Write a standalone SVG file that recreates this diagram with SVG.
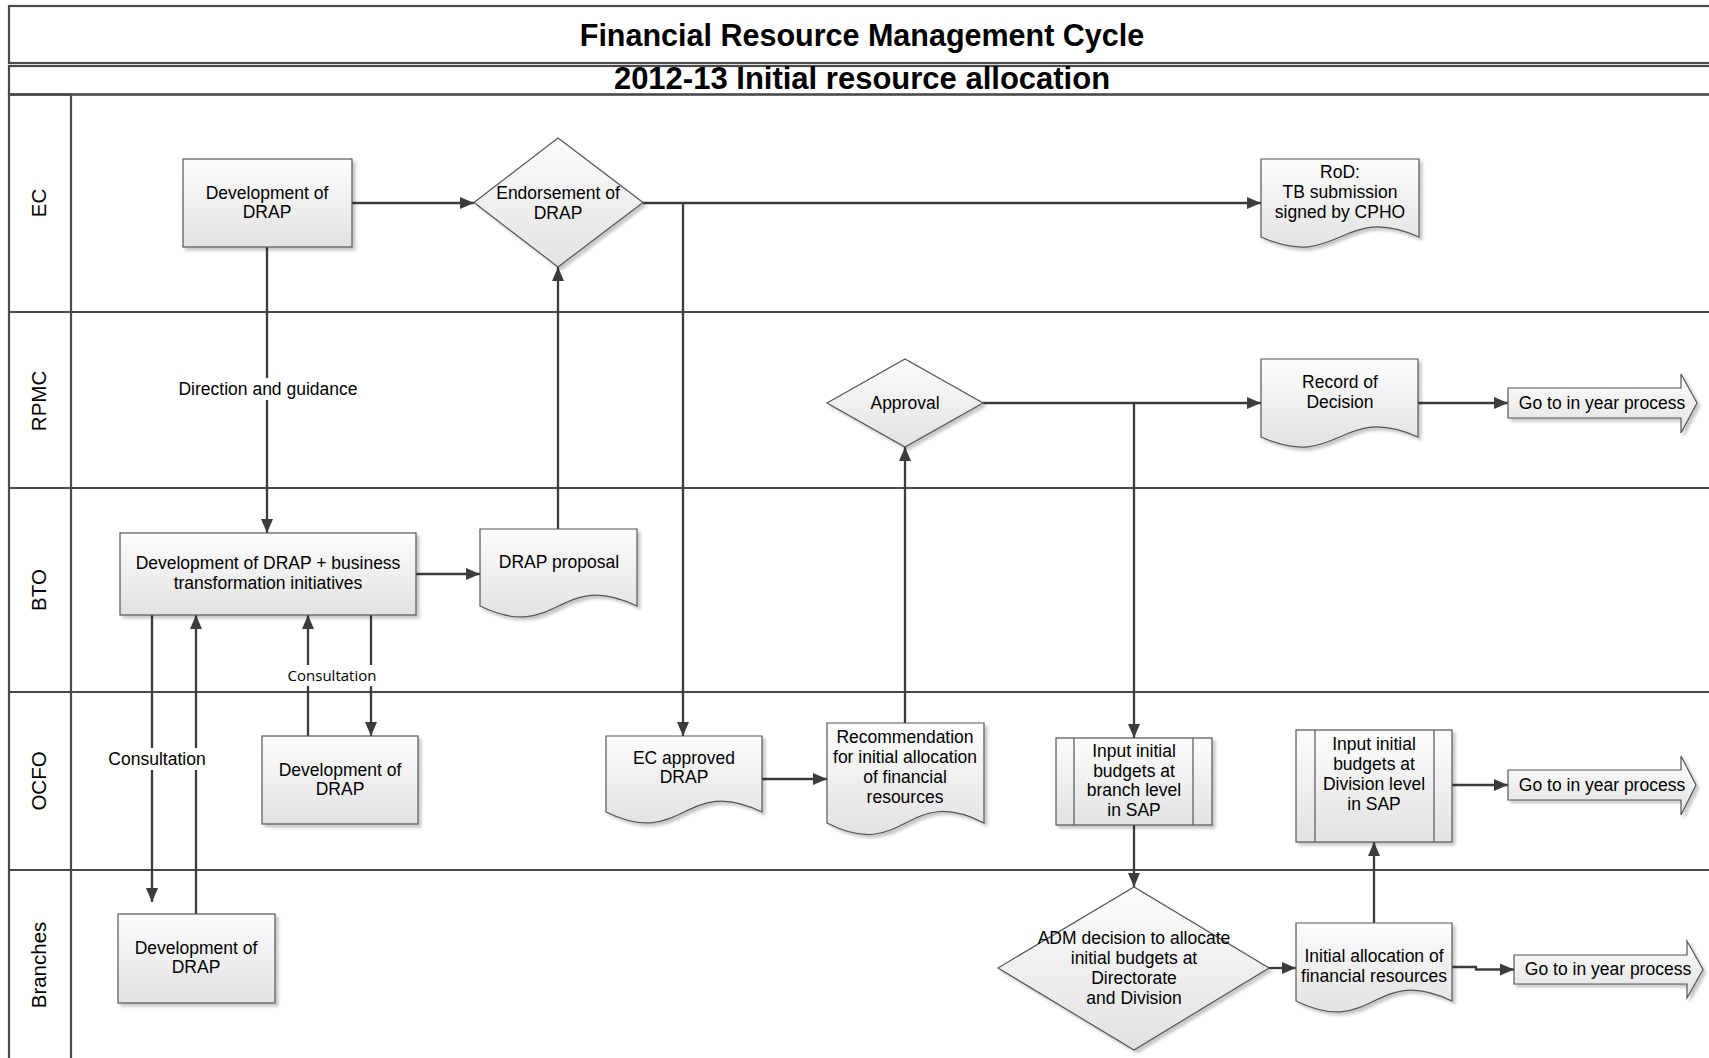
<svg xmlns="http://www.w3.org/2000/svg" width="1709" height="1058" viewBox="0 0 1709 1058">
<style>
text{font-family:"Liberation Sans",Arial,sans-serif;fill:#000}
.t{font-size:17.5px;text-anchor:middle}
.h{font-size:30.5px;font-weight:bold;text-anchor:middle}
.ln{font-size:20.5px;text-anchor:middle;dominant-baseline:central}
.lane{stroke:#4a4a4a;stroke-width:2.2;fill:none}
.sh{fill:url(#gf);stroke:#555;stroke-width:1.2}
.in{stroke:#555;stroke-width:1.2}
.c{stroke:#3c3c3c;stroke-width:2.3;fill:none}
.ca{stroke:#3c3c3c;stroke-width:2.3;fill:none;marker-end:url(#ah)}
.lb{fill:#fff}
.cs{font-family:"Open Sans","Liberation Sans",sans-serif;font-size:15px;text-anchor:middle}
</style>
<defs>
<linearGradient id="gf" x1="0" y1="0" x2="0" y2="1"><stop offset="0" stop-color="#fdfdfd"/><stop offset="1" stop-color="#e2e2e2"/></linearGradient>
<linearGradient id="gt" x1="0" y1="0" x2="0" y2="1"><stop offset="0" stop-color="#fafafa"/><stop offset="1" stop-color="#e8e8e8"/></linearGradient>
<linearGradient id="gl" x1="0" y1="0" x2="1" y2="0"><stop offset="0" stop-color="#f5f5f5"/><stop offset="1" stop-color="#e9e9e9"/></linearGradient>
<filter id="ds" x="-10%" y="-10%" width="130%" height="130%"><feGaussianBlur in="SourceAlpha" stdDeviation="1.5"/><feOffset dx="3" dy="3"/><feComponentTransfer><feFuncA type="linear" slope="0.22"/></feComponentTransfer><feMerge><feMergeNode/><feMergeNode in="SourceGraphic"/></feMerge></filter>
<marker id="ah" markerWidth="15" markerHeight="13" refX="14" refY="6.5" orient="auto" markerUnits="userSpaceOnUse"><path d="M0,0.5 L14,6.5 L0,12.5 z" fill="#3c3c3c"/></marker>
</defs>

<g id="pool">
<rect x="9" y="6" width="1710" height="57" fill="url(#gt)" class="lane"/>
<rect x="9" y="66" width="1710" height="28.5" fill="url(#gt)" class="lane"/>
<text class="h" x="862" y="46">Financial Resource Management Cycle</text>
<text class="h" x="862" y="89" style="font-size:31px">2012-13 Initial resource allocation</text>
<rect x="9" y="94.5" width="62" height="970" fill="url(#gl)" class="lane"/>
<path class="lane" d="M9,94.5 H1712 M9,312 H1712 M9,488 H1712 M9,692 H1712 M9,870 H1712"/>
<text class="ln" transform="translate(38,203) rotate(-90)">EC</text>
<text class="ln" transform="translate(38,401) rotate(-90)">RPMC</text>
<text class="ln" transform="translate(38,590) rotate(-90)">BTO</text>
<text class="ln" transform="translate(38,781) rotate(-90)">OCFO</text>
<text class="ln" transform="translate(38,965) rotate(-90)">Branches</text>
</g>

<g id="connectors">
<path class="ca" d="M352,203 H474"/>
<path class="ca" d="M643,203 H1261"/>
<path class="ca" d="M683,203 V736"/>
<path class="ca" d="M267,247 V533"/>
<path class="ca" d="M416,574 H480"/>
<path class="ca" d="M558,529 V267"/>
<path class="ca" d="M152,615 V902"/>
<path class="ca" d="M196,914 V615"/>
<path class="ca" d="M308,736 V615"/>
<path class="ca" d="M371,615 V736"/>
<path class="ca" d="M762,779 H827"/>
<path class="ca" d="M905,723 V447"/>
<path class="ca" d="M983,403 H1261"/>
<path class="ca" d="M1134,403 V738"/>
<path class="ca" d="M1418,403 H1508"/>
<path class="ca" d="M1134,825 V887"/>
<path class="ca" d="M1269,968 H1296"/>
<path class="ca" d="M1374,923 V842"/>
<path class="ca" d="M1452,785 H1508"/>
<path class="ca" d="M1452,967 H1476 V969.5 H1514"/>
<rect class="lb" x="175" y="378" width="186" height="22"/>
<text class="t" x="268" y="395">Direction and guidance</text>
<rect class="lb" x="106" y="748" width="102" height="22"/>
<text class="t" x="157" y="765">Consultation</text>
<rect class="lb" x="285" y="665" width="94" height="21"/>
<text class="cs" x="332" y="681">Consultation</text>
</g>

<g id="ec-dev">
<rect class="sh" filter="url(#ds)" x="183" y="159" width="169" height="88"/>
<text class="t" x="267" y="199">Development of</text>
<text class="t" x="267" y="218">DRAP</text>
</g>
<g id="ec-endorse">
<polygon class="sh" filter="url(#ds)" points="474,202.5 558,138 643,202.5 558,267"/>
<text class="t" x="558" y="199">Endorsement of</text>
<text class="t" x="558" y="218.5">DRAP</text>
</g>
<g id="ec-rod">
<path class="sh" filter="url(#ds)" d="M1261,159 H1419 V237 C1340,202 1340,272 1261,237 Z"/>
<text class="t" x="1340" y="178">RoD:</text>
<text class="t" x="1340" y="198">TB submission</text>
<text class="t" x="1340" y="218">signed by CPHO</text>
</g>

<g id="rpmc-approval">
<polygon class="sh" filter="url(#ds)" points="827,403 905,359 983,403 905,447"/>
<text class="t" x="905" y="409">Approval</text>
</g>
<g id="rpmc-record">
<path class="sh" filter="url(#ds)" d="M1261,359 H1418 V437 C1339.5,402 1339.5,472 1261,437 Z"/>
<text class="t" x="1340" y="388">Record of</text>
<text class="t" x="1340" y="408">Decision</text>
</g>
<g id="rpmc-goto">
<polygon class="sh" filter="url(#ds)" points="1508,388 1681,388 1681,374 1697,403 1681,433 1681,418 1508,418"/>
<text class="t" x="1602" y="409">Go to in year process</text>
</g>

<g id="bto-dev">
<rect class="sh" filter="url(#ds)" x="120" y="533" width="296" height="82"/>
<text class="t" x="268" y="569">Development of DRAP + business</text>
<text class="t" x="268" y="589">transformation initiatives</text>
</g>
<g id="bto-proposal">
<path class="sh" filter="url(#ds)" d="M480,529 H637 V606 C558.5,568 558.5,644 480,606 Z"/>
<text class="t" x="559" y="568">DRAP proposal</text>
</g>

<g id="ocfo-dev">
<rect class="sh" filter="url(#ds)" x="262" y="736" width="156" height="88"/>
<text class="t" x="340" y="776">Development of</text>
<text class="t" x="340" y="795">DRAP</text>
</g>
<g id="ocfo-ecapproved">
<path class="sh" filter="url(#ds)" d="M606,736 H762 V812 C684,774 684,850 606,812 Z"/>
<text class="t" x="684" y="764">EC approved</text>
<text class="t" x="684" y="783">DRAP</text>
</g>
<g id="ocfo-recommendation">
<path class="sh" filter="url(#ds)" d="M827,723 H984 V823 C905.5,783 905.5,863 827,823 Z"/>
<text class="t" x="905" y="743">Recommendation</text>
<text class="t" x="905" y="763">for initial allocation</text>
<text class="t" x="905" y="783">of financial</text>
<text class="t" x="905" y="803">resources</text>
</g>
<g id="ocfo-input-branch">
<rect class="sh" filter="url(#ds)" x="1056" y="738" width="156" height="87"/>
<path class="in" d="M1074,738 V825 M1193,738 V825"/>
<text class="t" x="1134" y="757">Input initial</text>
<text class="t" x="1134" y="776.5">budgets at</text>
<text class="t" x="1134" y="796">branch level</text>
<text class="t" x="1134" y="815.5">in SAP</text>
</g>
<g id="ocfo-input-division">
<rect class="sh" filter="url(#ds)" x="1296" y="730" width="156" height="112"/>
<path class="in" d="M1315,730 V842 M1434,730 V842"/>
<text class="t" x="1374" y="750">Input initial</text>
<text class="t" x="1374" y="770">budgets at</text>
<text class="t" x="1374" y="790">Division level</text>
<text class="t" x="1374" y="810">in SAP</text>
</g>
<g id="ocfo-goto">
<polygon class="sh" filter="url(#ds)" points="1508,770 1681,770 1681,756 1696,785 1681,815 1681,800 1508,800"/>
<text class="t" x="1602" y="791">Go to in year process</text>
</g>

<g id="br-dev">
<rect class="sh" filter="url(#ds)" x="118" y="914" width="157" height="89"/>
<text class="t" x="196" y="954">Development of</text>
<text class="t" x="196" y="973">DRAP</text>
</g>
<g id="br-adm">
<polygon class="sh" filter="url(#ds)" points="998,968 1134,887 1269,968 1134,1050"/>
<text class="t" x="1134" y="944">ADM decision to allocate</text>
<text class="t" x="1134" y="964">initial budgets at</text>
<text class="t" x="1134" y="984">Directorate</text>
<text class="t" x="1134" y="1004">and Division</text>
</g>
<g id="br-initial">
<path class="sh" filter="url(#ds)" d="M1296,923 H1452 V1001 C1374,963 1374,1039 1296,1001 Z"/>
<text class="t" x="1374" y="962">Initial allocation of</text>
<text class="t" x="1374" y="982">financial resources</text>
</g>
<g id="br-goto">
<polygon class="sh" filter="url(#ds)" points="1514,955 1687,955 1687,941 1703,969.5 1687,998 1687,984 1514,984"/>
<text class="t" x="1608" y="975">Go to in year process</text>
</g>
</svg>
